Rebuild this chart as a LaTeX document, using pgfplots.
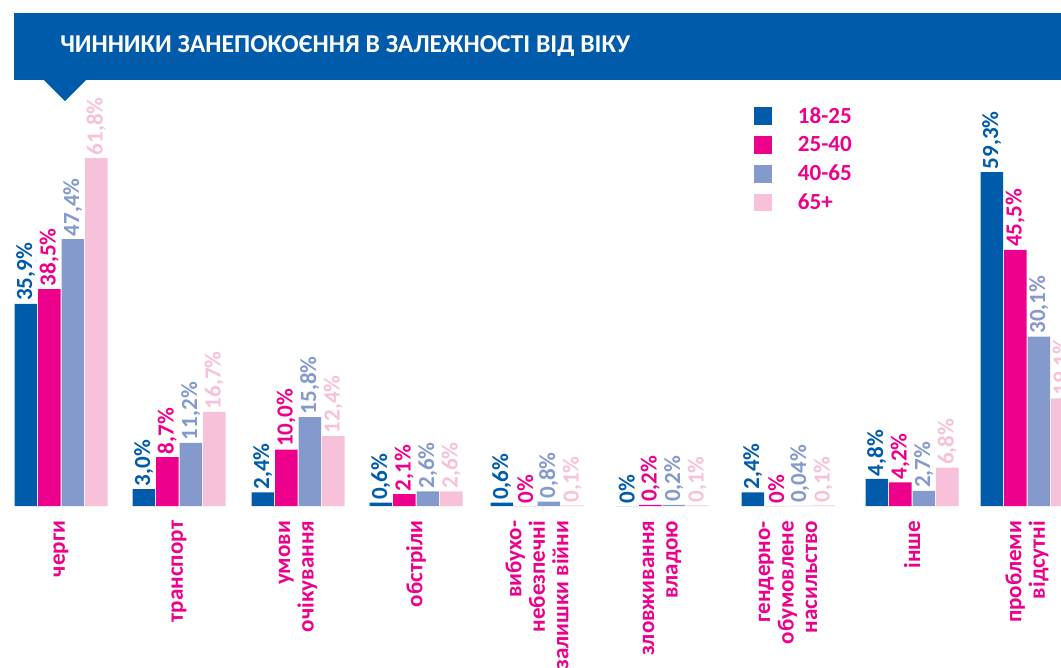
\documentclass[border=0pt]{standalone}
\usepackage{pgfplots}
\pgfplotsset{compat=1.18}
\usepackage{pgfplotstable}
\usepackage{fontspec}
\setmainfont{Carlito}
\definecolor{blueC}{RGB}{0,91,170}
\definecolor{magC}{RGB}{236,0,140}
\definecolor{lavC}{RGB}{132,153,204}
\definecolor{pinkC}{RGB}{247,193,217}
\newcommand{\lblfont}{\fontsize{17.3}{17.6}\selectfont\bfseries}
\pgfplotsset{sqlegend/.style={legend image code/.code={\fill[##1] (0pt,-6.6pt) rectangle (13.2pt,6.6pt);}}}

\pgfplotstableread{
x    a     b     c     d     la      lb      lc       ld
61   35.9  38.5  47.4  61.8  35,9\%  38,5\%  47,4\%   61,8\%
179  3.0   8.7   11.2  16.7  3,0\%   8,7\%   11,2\%   16,7\%
298  2.4   10.0  15.8  12.4  2,4\%   10,0\%  15,8\%   12,4\%
416  0.6   2.1   2.6   2.6   0,6\%   2,1\%   2,6\%    2,6\%
537  0.6   0     0.8   0.1   0,6\%   0\%     0,8\%    0,1\%
662  0     0.2   0.2   0.1   0\%     0,2\%   0,2\%    0,1\%
788  2.4   0     0.04  0.1   2,4\%   0\%     0,04\%   0,1\%
912  4.8   4.2   2.7   6.8   4,8\%   4,2\%   2,7\%    6,8\%
1027 59.3  45.5  30.1  19.1  59,3\%  45,5\%  30,1\%   19,1\%
}\datatable

\begin{document}
\begin{tikzpicture}
\useasboundingbox (0pt,0pt) rectangle (795.75pt,-501pt);
\begin{scope}[x=0.75pt,y=-0.75pt]
\fill[blueC] (14,13) rectangle (1062,80);
\fill[blueC] (43,79) -- (87,79) -- (65,101) -- cycle;
\node[anchor=west, text=white, font=\fontsize{19.25}{20}\selectfont\bfseries, inner sep=0pt] at (60,46) {ЧИННИКИ ЗАНЕПОКОЄННЯ В ЗАЛЕЖНОСТІ ВІД ВІКУ};
\end{scope}
\begin{axis}[
  at={(0pt,-379.5pt)}, anchor=south west,
  scale only axis, width=795.75pt, height=379.5pt,
  xmin=0, xmax=1061, ymin=0, ymax=89.86,
  ybar=0.75pt, bar width=22.5,
  axis line style={draw=none},
  ytick=\empty,
  xtick=data,
  major tick length=0pt,
  xticklabels={черги, транспорт, {умови\\очікування}, обстріли, {вибухо-\\небезпечні\\залишки війни}, {зловживання\\владою}, {гендерно-\\обумовлене\\насильство}, інше, {проблеми\\відсутні}},
  xticklabel style={rotate=90, anchor=east, align=right, font=\lblfont, text=magC, inner sep=0pt},
  xticklabel shift=11pt,
  nodes near coords,
  point meta=explicit symbolic,
  every node near coord/.append style={rotate=90, anchor=west, font=\lblfont, inner sep=2pt},
  legend style={at={(axis cs:754,70.85)}, anchor=north west, draw=none, fill=none, inner sep=0pt,
    font=\lblfont, text=magC, row sep=8.25pt, nodes={inner sep=0pt},
    /tikz/every odd column/.append style={column sep=19.5pt}},
  legend cell align=left,
]
\addplot[fill=blueC, draw=none, sqlegend, every node near coord/.append style={text=blueC}] table[x=x, y=a, meta=la] {\datatable};
\addplot[fill=magC, draw=none, sqlegend, every node near coord/.append style={text=magC}] table[x=x, y=b, meta=lb] {\datatable};
\addplot[fill=lavC, draw=none, sqlegend, every node near coord/.append style={text=lavC}] table[x=x, y=c, meta=lc] {\datatable};
\addplot[fill=pinkC, draw=none, sqlegend, every node near coord/.append style={text=pinkC}] table[x=x, y=d, meta=ld] {\datatable};
\legend{18-25, 25-40, 40-65, 65+}
\end{axis}
\end{tikzpicture}
\end{document}
